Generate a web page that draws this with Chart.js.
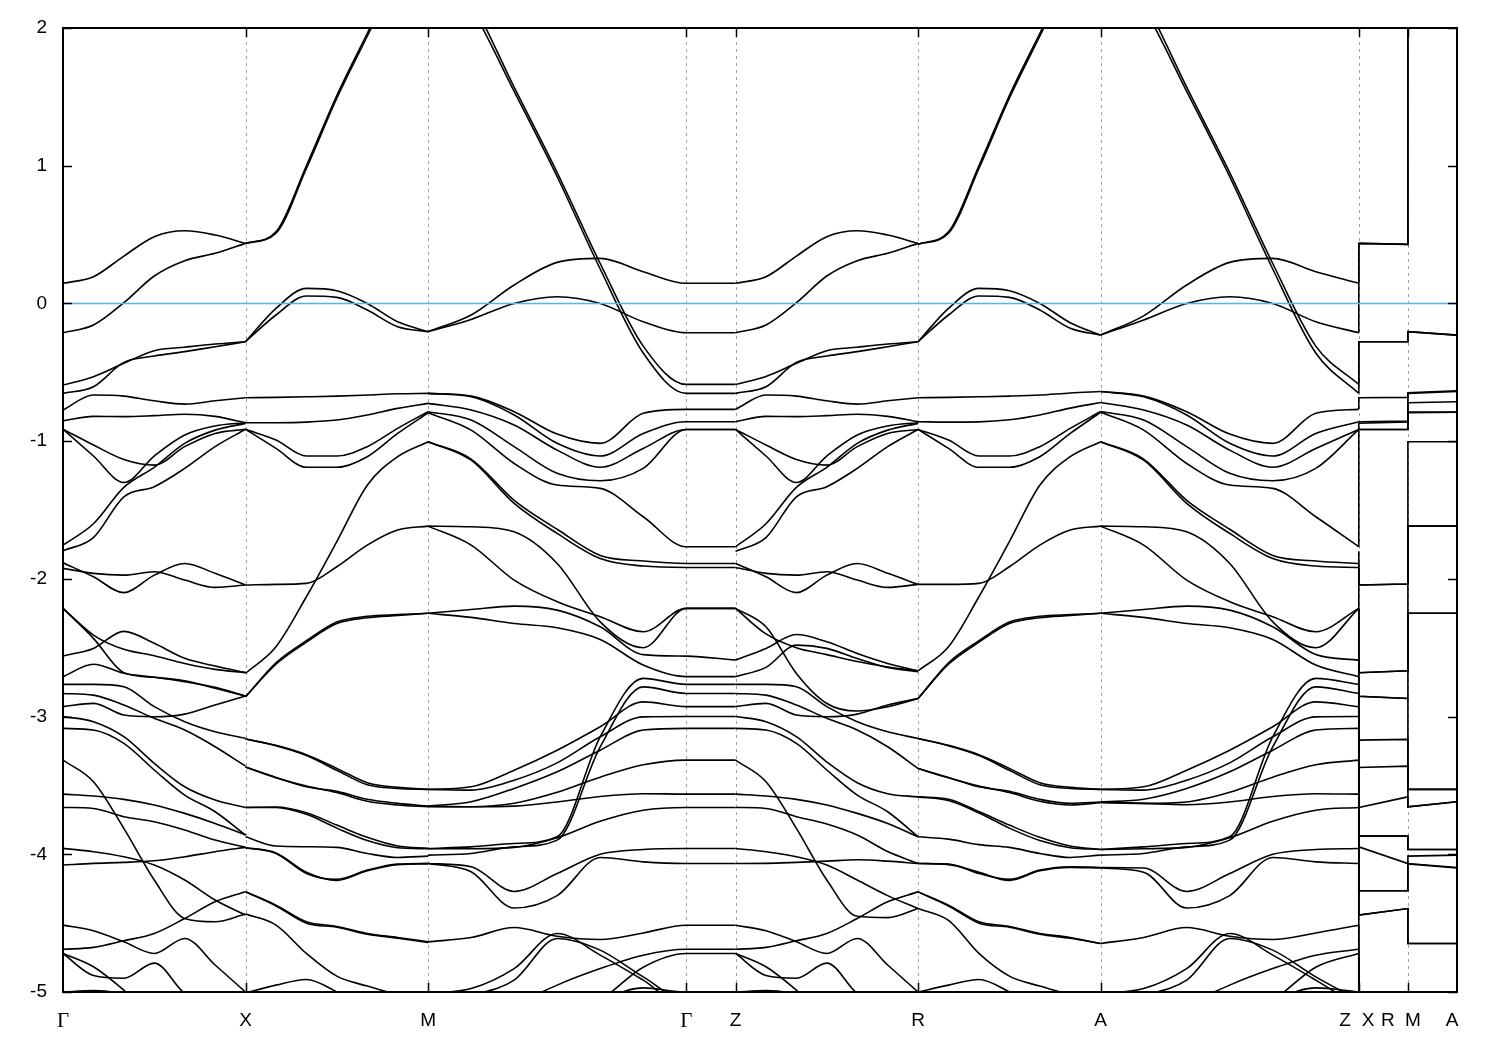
<!DOCTYPE html>
<html>
<head>
<meta charset="utf-8">
<title>Band structure</title>
<script src="https://cdn.jsdelivr.net/npm/chart.js@4.4.1/dist/chart.umd.min.js"></script>
<style>
  html, body { margin: 0; padding: 0; background: #fff; }
  #wrap { width: 1500px; height: 1050px; }
</style>
</head>
<body>
<div id="wrap"><canvas id="bands" width="1500" height="1050"></canvas></div>
<script>
// k-path positions (path length units, |Γ-X| = 1)
const kGX = [0, 0.1667, 0.3333, 0.5, 0.6667, 0.8333, 1];
const kXM = [1, 1.1667, 1.3333, 1.5, 1.6667, 1.8333, 2];
const kMG = [2, 2.2357, 2.4714, 2.7071, 2.9428, 3.1785, 3.4142, 3.6842]; // M -> Γ -> Z
const kZR = [3.6842, 3.8509, 4.0175, 4.1842, 4.3509, 4.5175, 4.6842];
const kRA = [4.6842, 4.8509, 5.0175, 5.1842, 5.3509, 5.5175, 5.6842];
const kAZ = [5.6842, 5.9199, 6.1556, 6.3913, 6.6270, 6.8627, 7.0984];
const kTail = [7.0984, 7.0984, 7.3674, 7.3674, 7.6364]; // Z|X - R|M - A

// axis labels
const tickLabels = ['Γ', 'X', 'M', 'Γ', 'Z', 'R', 'A', 'Z', 'X', 'R', 'M', 'A'];
const tickKs = [0, 1, 2, 3.4142, 3.6842, 4.6842, 5.6842, 7.0227, 7.1487, 7.2583, 7.3952, 7.6089];
const gridKs = [1, 2, 3.4142, 3.6842, 4.6842, 5.6842, 7.0984, 7.3674];
const yTicks = [-5, -4, -3, -2, -1, 0, 1, 2];
const fermiLevel = 0;

// energies (eV) read along each segment
const bandsGX = [
  [0.146, 0.194, 0.344, 0.485, 0.528, 0.497, 0.436],
  [-0.213, -0.157, 0.005, 0.199, 0.31, 0.364, 0.436],
  [-0.593, -0.532, -0.435, -0.343, -0.318, -0.295, -0.278],
  [-0.653, -0.605, -0.428, -0.382, -0.35, -0.314, -0.278],
  [-0.774, -0.665, -0.673, -0.707, -0.731, -0.707, -0.685],
  [-0.852, -0.82, -0.822, -0.815, -0.805, -0.82, -0.866],
  [-0.914, -1.108, -1.3, -1.108, -0.956, -0.89, -0.866],
  [-0.914, -1.028, -1.133, -1.174, -1.04, -0.944, -0.914],
  [-1.755, -1.6, -1.336, -1.19, -1.016, -0.92, -0.871],
  [-1.796, -1.7, -1.404, -1.331, -1.198, -1.04, -0.914],
  [-1.883, -1.985, -2.1, -1.973, -1.888, -1.96, -2.045],
  [-1.924, -1.96, -1.973, -1.948, -2.009, -2.062, -2.045],
  [-2.214, -2.408, -2.512, -2.558, -2.614, -2.657, -2.681],
  [-2.214, -2.432, -2.681, -2.715, -2.74, -2.795, -2.851],
  [-2.56, -2.505, -2.381, -2.468, -2.577, -2.633, -2.681],
  [-2.71, -2.62, -2.686, -2.715, -2.747, -2.788, -2.851],
  [-2.766, -2.766, -2.783, -2.928, -3.037, -3.11, -3.158],
  [-2.832, -2.844, -2.916, -3.013, -3.098, -3.219, -3.36],
  [-2.928, -2.904, -2.989, -3.001, -2.982, -2.916, -2.851],
  [-3.0, -3.037, -3.146, -3.34, -3.51, -3.606, -3.66],
  [-3.086, -3.098, -3.195, -3.388, -3.57, -3.691, -3.86],
  [-3.316, -3.473, -3.812, -4.187, -4.466, -4.49, -4.434],
  [-3.563, -3.577, -3.601, -3.642, -3.703, -3.776, -3.86],
  [-3.66, -3.667, -3.727, -3.764, -3.824, -3.897, -3.95],
  [-4.078, -4.066, -4.059, -4.047, -4.018, -3.981, -3.95],
  [-3.957, -3.981, -4.018, -4.078, -4.187, -4.332, -4.442],
  [-4.514, -4.555, -4.635, -4.72, -4.611, -4.804, -5.0],
  [-4.69, -4.676, -4.628, -4.575, -4.466, -4.345, -4.272],
  [-4.72, -4.88, -4.9, -4.79, -5.01, -5.1, -5.2],
  [-4.72, -4.817, -4.986, -5.18, -5.3, -5.4, -5.5],
  [-5.0, -4.99, -5.02, -5.13, -5.23, -5.28, -5.32]
];

const bandsXM = [
  [0.436, 0.52, 1.0, 1.51, 1.96, 2.4, 2.6],
  [0.436, 0.51, 0.98, 1.49, 1.94, 2.38, 2.58],
  [-0.278, -0.036, 0.109, 0.092, 0.0, -0.133, -0.205],
  [-0.278, -0.084, 0.054, 0.044, -0.048, -0.169, -0.205],
  [-0.685, -0.682, -0.678, -0.673, -0.665, -0.656, -0.653],
  [-0.866, -0.866, -0.862, -0.847, -0.81, -0.762, -0.726],
  [-0.914, -1.053, -1.19, -1.19, -1.113, -0.944, -0.794],
  [-0.914, -0.992, -1.108, -1.108, -1.04, -0.907, -0.786],
  [-2.686, -2.493, -2.13, -1.73, -1.32, -1.113, -1.004],
  [-2.045, -2.04, -2.033, -1.912, -1.755, -1.646, -1.617],
  [-2.856, -2.609, -2.449, -2.313, -2.272, -2.26, -2.25],
  [-2.856, -2.62, -2.46, -2.325, -2.282, -2.266, -2.25],
  [-3.163, -3.209, -3.277, -3.376, -3.48, -3.514, -3.529],
  [-3.163, -3.212, -3.283, -3.39, -3.495, -3.522, -3.529],
  [-3.367, -3.442, -3.51, -3.543, -3.601, -3.63, -3.65],
  [-3.367, -3.445, -3.505, -3.552, -3.615, -3.642, -3.655],
  [-3.66, -3.657, -3.698, -3.788, -3.877, -3.94, -3.957],
  [-3.66, -3.66, -3.71, -3.81, -3.9, -3.952, -3.96],
  [-3.873, -3.94, -3.945, -3.95, -3.994, -4.023, -4.013],
  [-3.952, -3.994, -4.139, -4.182, -4.115, -4.071, -4.066],
  [-3.952, -3.99, -4.13, -4.19, -4.12, -4.075, -4.07],
  [-4.272, -4.369, -4.49, -4.524, -4.575, -4.604, -4.635],
  [-4.272, -4.375, -4.5, -4.53, -4.58, -4.61, -4.64],
  [-4.434, -4.514, -4.72, -4.885, -4.957, -5.02, -5.08],
  [-5.006, -4.95, -4.909, -5.0, -5.13, -5.23, -5.28]
];

const bandsMG = [
  [2.6, 2.2, 1.57, 0.95, 0.29, -0.31, -0.588, -0.588],
  [2.58, 2.15, 1.54, 0.92, 0.25, -0.36, -0.653, -0.653],
  [-0.205, -0.084, 0.134, 0.298, 0.327, 0.23, 0.146, 0.146],
  [-0.205, -0.116, 0.0, 0.049, 0.0, -0.133, -0.213, -0.213],
  [-0.653, -0.673, -0.786, -0.949, -1.016, -0.798, -0.769, -0.769],
  [-0.653, -0.678, -0.81, -1.016, -1.108, -0.944, -0.859, -0.859],
  [-0.726, -0.774, -0.883, -1.065, -1.19, -1.053, -0.915, -0.915],
  [-0.786, -0.847, -1.04, -1.234, -1.288, -1.198, -0.915, -0.915],
  [-0.794, -0.92, -1.162, -1.319, -1.343, -1.549, -1.767, -1.767],
  [-1.004, -1.138, -1.452, -1.67, -1.852, -1.907, -1.917, -1.917],
  [-1.004, -1.13, -1.43, -1.64, -1.83, -1.87, -1.888, -1.888],
  [-1.617, -1.755, -2.009, -2.166, -2.275, -2.384, -2.214, -2.214],
  [-1.617, -1.622, -1.658, -1.888, -2.312, -2.5, -2.214, -2.214],
  [-2.25, -2.222, -2.198, -2.227, -2.348, -2.55, -2.561, -2.59],
  [-2.25, -2.28, -2.324, -2.355, -2.44, -2.626, -2.71, -2.71],
  [-3.958, -3.946, -3.922, -3.873, -3.147, -2.723, -2.766, -2.766],
  [-4.006, -3.994, -3.946, -3.897, -3.22, -2.784, -2.832, -2.832],
  [-3.529, -3.51, -3.389, -3.244, -3.074, -2.893, -2.928, -2.928],
  [-3.529, -3.534, -3.462, -3.336, -3.147, -3.002, -3.0, -3.0],
  [-3.65, -3.619, -3.522, -3.401, -3.244, -3.098, -3.086, -3.086],
  [-3.655, -3.655, -3.63, -3.55, -3.44, -3.35, -3.316, -3.316],
  [-3.65, -3.655, -3.65, -3.62, -3.58, -3.56, -3.563, -3.563],
  [-3.96, -3.96, -3.95, -3.88, -3.76, -3.68, -3.66, -3.66],
  [-4.067, -4.091, -4.27, -4.14, -4.0, -3.965, -3.958, -3.958],
  [-4.067, -4.127, -4.39, -4.3, -4.023, -4.055, -4.067, -4.067],
  [-4.636, -4.604, -4.532, -4.595, -4.619, -4.571, -4.515, -4.515],
  [-5.011, -4.975, -4.83, -4.575, -4.732, -4.914, -5.108, -5.108],
  [-5.083, -5.023, -4.914, -4.611, -4.696, -4.89, -5.06, -5.06],
  [-5.4, -5.3, -5.1, -4.95, -4.83, -4.733, -4.69, -4.69],
  [-5.5, -5.4, -5.3, -5.2, -5.06, -4.82, -4.72, -4.72],
  [-5.4, -5.35, -5.3, -5.2, -5.06, -4.97, -5.0, -5.0]
];

const bandsZR = [
  [0.146, 0.194, 0.344, 0.485, 0.528, 0.497, 0.436],
  [-0.213, -0.157, 0.005, 0.199, 0.31, 0.364, 0.436],
  [-0.588, -0.53, -0.435, -0.343, -0.318, -0.295, -0.278],
  [-0.653, -0.605, -0.428, -0.382, -0.35, -0.314, -0.278],
  [-0.769, -0.665, -0.673, -0.707, -0.731, -0.707, -0.685],
  [-0.859, -0.82, -0.822, -0.815, -0.805, -0.82, -0.859],
  [-0.915, -1.108, -1.3, -1.108, -0.956, -0.89, -0.866],
  [-0.915, -1.028, -1.133, -1.174, -1.04, -0.944, -0.915],
  [-1.767, -1.6, -1.336, -1.19, -1.016, -0.92, -0.871],
  [-1.8, -1.7, -1.404, -1.331, -1.198, -1.04, -0.915],
  [-1.888, -1.985, -2.1, -1.973, -1.888, -1.96, -2.04],
  [-1.917, -1.96, -1.973, -1.948, -2.009, -2.062, -2.04],
  [-2.214, -2.4, -2.5, -2.55, -2.6, -2.64, -2.668],
  [-2.214, -2.348, -2.687, -2.905, -2.96, -2.929, -2.869],
  [-2.59, -2.505, -2.404, -2.457, -2.542, -2.614, -2.668],
  [-2.71, -2.643, -2.481, -2.505, -2.578, -2.643, -2.675],
  [-2.766, -2.766, -2.783, -2.928, -3.037, -3.11, -3.159],
  [-2.832, -2.844, -2.916, -3.013, -3.098, -3.219, -3.377],
  [-2.928, -2.904, -2.989, -3.001, -2.982, -2.916, -2.869],
  [-3.0, -3.037, -3.146, -3.33, -3.48, -3.56, -3.583],
  [-3.086, -3.098, -3.195, -3.388, -3.57, -3.691, -3.873],
  [-3.316, -3.473, -3.812, -4.187, -4.45, -4.46, -4.394],
  [-3.563, -3.577, -3.601, -3.642, -3.703, -3.776, -3.873],
  [-3.66, -3.667, -3.727, -3.78, -3.86, -3.98, -4.067],
  [-4.067, -4.066, -4.059, -4.05, -4.04, -4.05, -4.067],
  [-3.958, -3.981, -4.018, -4.078, -4.187, -4.3, -4.394],
  [-4.515, -4.555, -4.635, -4.72, -4.611, -4.804, -5.0],
  [-4.69, -4.676, -4.628, -4.575, -4.466, -4.345, -4.273],
  [-4.72, -4.88, -4.9, -4.79, -5.01, -5.1, -5.2],
  [-4.72, -4.817, -4.986, -5.18, -5.3, -5.4, -5.5],
  [-5.0, -4.99, -5.02, -5.13, -5.23, -5.28, -5.32]
];

const bandsRA = [
  [0.43, 0.52, 1.0, 1.51, 1.96, 2.4, 2.6],
  [0.43, 0.51, 0.98, 1.49, 1.94, 2.38, 2.58],
  [-0.278, -0.036, 0.109, 0.092, 0.0, -0.14, -0.23],
  [-0.278, -0.084, 0.054, 0.044, -0.048, -0.18, -0.23],
  [-0.685, -0.682, -0.678, -0.673, -0.665, -0.65, -0.64],
  [-0.859, -0.862, -0.86, -0.845, -0.81, -0.76, -0.72],
  [-0.915, -1.053, -1.19, -1.19, -1.113, -0.944, -0.79],
  [-0.915, -0.992, -1.108, -1.108, -1.04, -0.907, -0.785],
  [-2.668, -2.493, -2.13, -1.73, -1.32, -1.113, -1.004],
  [-2.04, -2.04, -2.033, -1.912, -1.755, -1.646, -1.617],
  [-2.869, -2.609, -2.449, -2.313, -2.272, -2.26, -2.25],
  [-2.869, -2.62, -2.46, -2.325, -2.282, -2.266, -2.25],
  [-3.159, -3.209, -3.277, -3.376, -3.48, -3.514, -3.529],
  [-3.159, -3.212, -3.283, -3.39, -3.495, -3.522, -3.529],
  [-3.377, -3.442, -3.51, -3.543, -3.601, -3.63, -3.62],
  [-3.377, -3.445, -3.505, -3.552, -3.615, -3.642, -3.625],
  [-3.583, -3.6, -3.69, -3.788, -3.877, -3.94, -3.965],
  [-3.583, -3.61, -3.7, -3.81, -3.9, -3.952, -3.965],
  [-3.873, -3.89, -3.93, -3.95, -3.994, -4.023, -4.006],
  [-4.067, -4.07, -4.139, -4.182, -4.115, -4.09, -4.096],
  [-4.067, -4.075, -4.13, -4.19, -4.12, -4.095, -4.1],
  [-4.273, -4.369, -4.49, -4.524, -4.575, -4.604, -4.648],
  [-4.273, -4.375, -4.5, -4.53, -4.58, -4.61, -4.648],
  [-4.394, -4.48, -4.72, -4.885, -4.957, -5.02, -5.08],
  [-5.0, -4.95, -4.909, -5.0, -5.13, -5.23, -5.28]
];

const bandsAZ = [
  [2.6, 2.2, 1.57, 0.95, 0.29, -0.31, -0.588],
  [2.58, 2.15, 1.54, 0.92, 0.25, -0.36, -0.653],
  [-0.23, -0.09, 0.134, 0.298, 0.327, 0.23, 0.146],
  [-0.23, -0.12, 0.0, 0.049, 0.0, -0.133, -0.213],
  [-0.64, -0.673, -0.786, -0.949, -1.016, -0.798, -0.769],
  [-0.64, -0.678, -0.81, -1.016, -1.108, -0.944, -0.859],
  [-0.72, -0.774, -0.883, -1.065, -1.19, -1.053, -0.915],
  [-0.785, -0.847, -1.04, -1.234, -1.288, -1.198, -0.915],
  [-0.79, -0.92, -1.162, -1.319, -1.343, -1.549, -1.767],
  [-1.004, -1.138, -1.452, -1.67, -1.852, -1.907, -1.917],
  [-1.004, -1.13, -1.43, -1.64, -1.83, -1.87, -1.888],
  [-1.617, -1.755, -2.009, -2.166, -2.275, -2.384, -2.214],
  [-1.617, -1.622, -1.658, -1.888, -2.312, -2.5, -2.214],
  [-2.25, -2.222, -2.198, -2.227, -2.348, -2.55, -2.59],
  [-2.25, -2.28, -2.324, -2.355, -2.44, -2.626, -2.71],
  [-3.965, -3.946, -3.922, -3.873, -3.147, -2.723, -2.766],
  [-4.006, -3.994, -3.946, -3.897, -3.22, -2.784, -2.832],
  [-3.529, -3.51, -3.389, -3.244, -3.074, -2.893, -2.928],
  [-3.529, -3.534, -3.462, -3.336, -3.147, -3.002, -3.0],
  [-3.62, -3.6, -3.522, -3.401, -3.244, -3.098, -3.086],
  [-3.625, -3.63, -3.62, -3.55, -3.44, -3.35, -3.316],
  [-3.62, -3.63, -3.64, -3.62, -3.58, -3.56, -3.563],
  [-3.965, -3.96, -3.95, -3.88, -3.76, -3.68, -3.66],
  [-4.096, -4.1, -4.27, -4.14, -4.0, -3.965, -3.958],
  [-4.1, -4.13, -4.39, -4.3, -4.023, -4.055, -4.067],
  [-4.648, -4.604, -4.532, -4.595, -4.619, -4.571, -4.515],
  [-5.011, -4.975, -4.83, -4.575, -4.732, -4.914, -5.108],
  [-5.083, -5.023, -4.914, -4.611, -4.696, -4.89, -5.06],
  [-5.4, -5.3, -5.1, -4.95, -4.83, -4.733, -4.69],
  [-5.5, -5.4, -5.3, -5.2, -5.06, -4.82, -4.72],
  [-5.4, -5.35, -5.3, -5.2, -5.06, -4.97, -5.0]
];

// short kz legs at the end, band by band (sorted by energy)
const tailZ = [0.146, -0.213, -0.588, -0.653, -0.769, -0.859, -0.915, -0.915, -1.767, -1.8, -1.888, -1.917, -2.214, -2.214, -2.59, -2.71, -2.766, -2.832, -2.928, -3.0, -3.086, -3.316, -3.563, -3.66, -3.958, -4.067, -4.515, -4.69, -4.72, -5.0];
const tailX = [0.436, 0.436, -0.278, -0.278, -0.685, -0.859, -0.87, -0.915, -0.915, -2.045, -2.045, -2.682, -2.682, -2.852, -2.852, -3.171, -3.37, -3.66, -3.868, -3.868, -3.946, -4.265, -4.265, -4.442, -4.442, -5.0, -5.1, -5.2, -5.3, -5.4];
const tailR = [0.429, 0.429, -0.278, -0.278, -0.682, -0.854, -0.86, -0.915, -0.915, -2.038, -2.038, -2.668, -2.668, -2.869, -2.869, -3.166, -3.36, -3.583, -3.868, -3.868, -4.067, -4.265, -4.265, -4.394, -4.394, -5.0, -5.1, -5.2, -5.3, -5.4];
const tailM = [2.6, 2.58, -0.205, -0.205, -0.648, -0.653, -0.721, -0.789, -0.794, -1.004, -1.617, -1.617, -2.25, -2.25, -3.529, -3.529, -3.655, -3.655, -3.965, -3.965, -4.013, -4.067, -4.07, -4.648, -4.648, -5.08, -5.2, -5.3, -5.4, -5.5];
const tailA = [2.6, 2.58, -0.23, -0.23, -0.634, -0.64, -0.714, -0.789, -0.79, -1.004, -1.617, -1.617, -2.25, -2.25, -3.529, -3.529, -3.619, -3.619, -3.965, -3.965, -4.006, -4.096, -4.1, -4.648, -4.648, -5.08, -5.2, -5.3, -5.4, -5.5];

const kMax = 7.6364;

// Build datasets
const datasets = [];

// Fermi level first so it is painted on top
datasets.push({
  data: [{ x: 0, y: fermiLevel }, { x: kMax, y: fermiLevel }],
  borderColor: '#56b4e9',
  borderWidth: 1.6,
  pointRadius: 0,
  tension: 0
});

function addSegment(ks, bands) {
  bands.forEach(band => {
    datasets.push({
      data: band.map((e, i) => ({ x: ks[i], y: e })),
      borderColor: '#000',
      borderWidth: 1.6,
      pointRadius: 0,
      cubicInterpolationMode: 'monotone'
    });
  });
}

addSegment(kGX, bandsGX);
addSegment(kXM, bandsXM);
addSegment(kMG, bandsMG);
addSegment(kZR, bandsZR);
addSegment(kRA, bandsRA);
addSegment(kAZ, bandsAZ);

tailZ.forEach((z, n) => {
  const vals = [z, tailX[n], tailR[n], tailM[n], tailA[n]];
  datasets.push({
    data: vals.map((e, i) => ({ x: kTail[i], y: e })),
    borderColor: '#000',
    borderWidth: 1.6,
    pointRadius: 0,
    tension: 0
  });
});

// dashed verticals, frame and inward tick marks (gnuplot look)
const framePlugin = {
  id: 'frame',
  beforeDatasetsDraw(chart) {
    const { ctx, chartArea: a, scales: { x } } = chart;
    ctx.save();
    ctx.strokeStyle = '#a0a0a0';
    ctx.lineWidth = 1;
    ctx.setLineDash([3, 4]);
    gridKs.forEach(k => {
      const px = Math.round(x.getPixelForValue(k)) + 0.5;
      ctx.beginPath();
      ctx.moveTo(px, a.top);
      ctx.lineTo(px, a.bottom);
      ctx.stroke();
    });
    ctx.restore();
  },
  afterDatasetsDraw(chart) {
    const { ctx, chartArea: a, scales: { x, y } } = chart;
    ctx.save();
    ctx.strokeStyle = '#000';
    ctx.lineWidth = 1.5;
    const len = 9;
    yTicks.forEach(v => {
      const py = Math.round(y.getPixelForValue(v)) + 0.5;
      ctx.beginPath();
      ctx.moveTo(a.left, py); ctx.lineTo(a.left + len, py);
      ctx.moveTo(a.right, py); ctx.lineTo(a.right - len, py);
      ctx.stroke();
    });
    gridKs.forEach(k => {
      const px = Math.round(x.getPixelForValue(k)) + 0.5;
      ctx.beginPath();
      ctx.moveTo(px, a.bottom); ctx.lineTo(px, a.bottom - len);
      ctx.moveTo(px, a.top); ctx.lineTo(px, a.top + len);
      ctx.stroke();
    });
    ctx.lineWidth = 2;
    ctx.strokeRect(a.left, a.top, a.right - a.left, a.bottom - a.top);
    ctx.restore();
  }
};

new Chart(document.getElementById('bands').getContext('2d'), {
  type: 'line',
  data: { datasets: datasets },
  options: {
    responsive: false,
    animation: false,
    events: [],
    layout: { padding: { top: 28, right: 43, left: 0, bottom: 0 } },
    plugins: { legend: { display: false }, tooltip: { enabled: false } },
    scales: {
      x: {
        type: 'linear',
        min: 0,
        max: kMax,
        grid: { display: false, drawTicks: false },
        border: { display: false },
        afterBuildTicks: scale => { scale.ticks = tickKs.map(v => ({ value: v })); },
        afterFit: scale => { scale.height = 58; },
        ticks: {
          autoSkip: false,
          maxRotation: 0,
          padding: 17,
          color: '#000',
          font: c => ({
            family: tickLabels[c.index] === 'Γ' ? 'Liberation Serif' : 'Liberation Sans',
            size: tickLabels[c.index] === 'Γ' ? 21 : 19
          }),
          callback: (value, index) => tickLabels[index]
        }
      },
      y: {
        min: -5,
        max: 2,
        grid: { display: false, drawTicks: false },
        border: { display: false },
        afterFit: scale => { scale.width = 63; },
        ticks: {
          stepSize: 1,
          padding: 16,
          color: '#000',
          font: { family: 'Liberation Sans', size: 19 }
        }
      }
    }
  },
  plugins: [framePlugin]
});
</script>
</body>
</html>
